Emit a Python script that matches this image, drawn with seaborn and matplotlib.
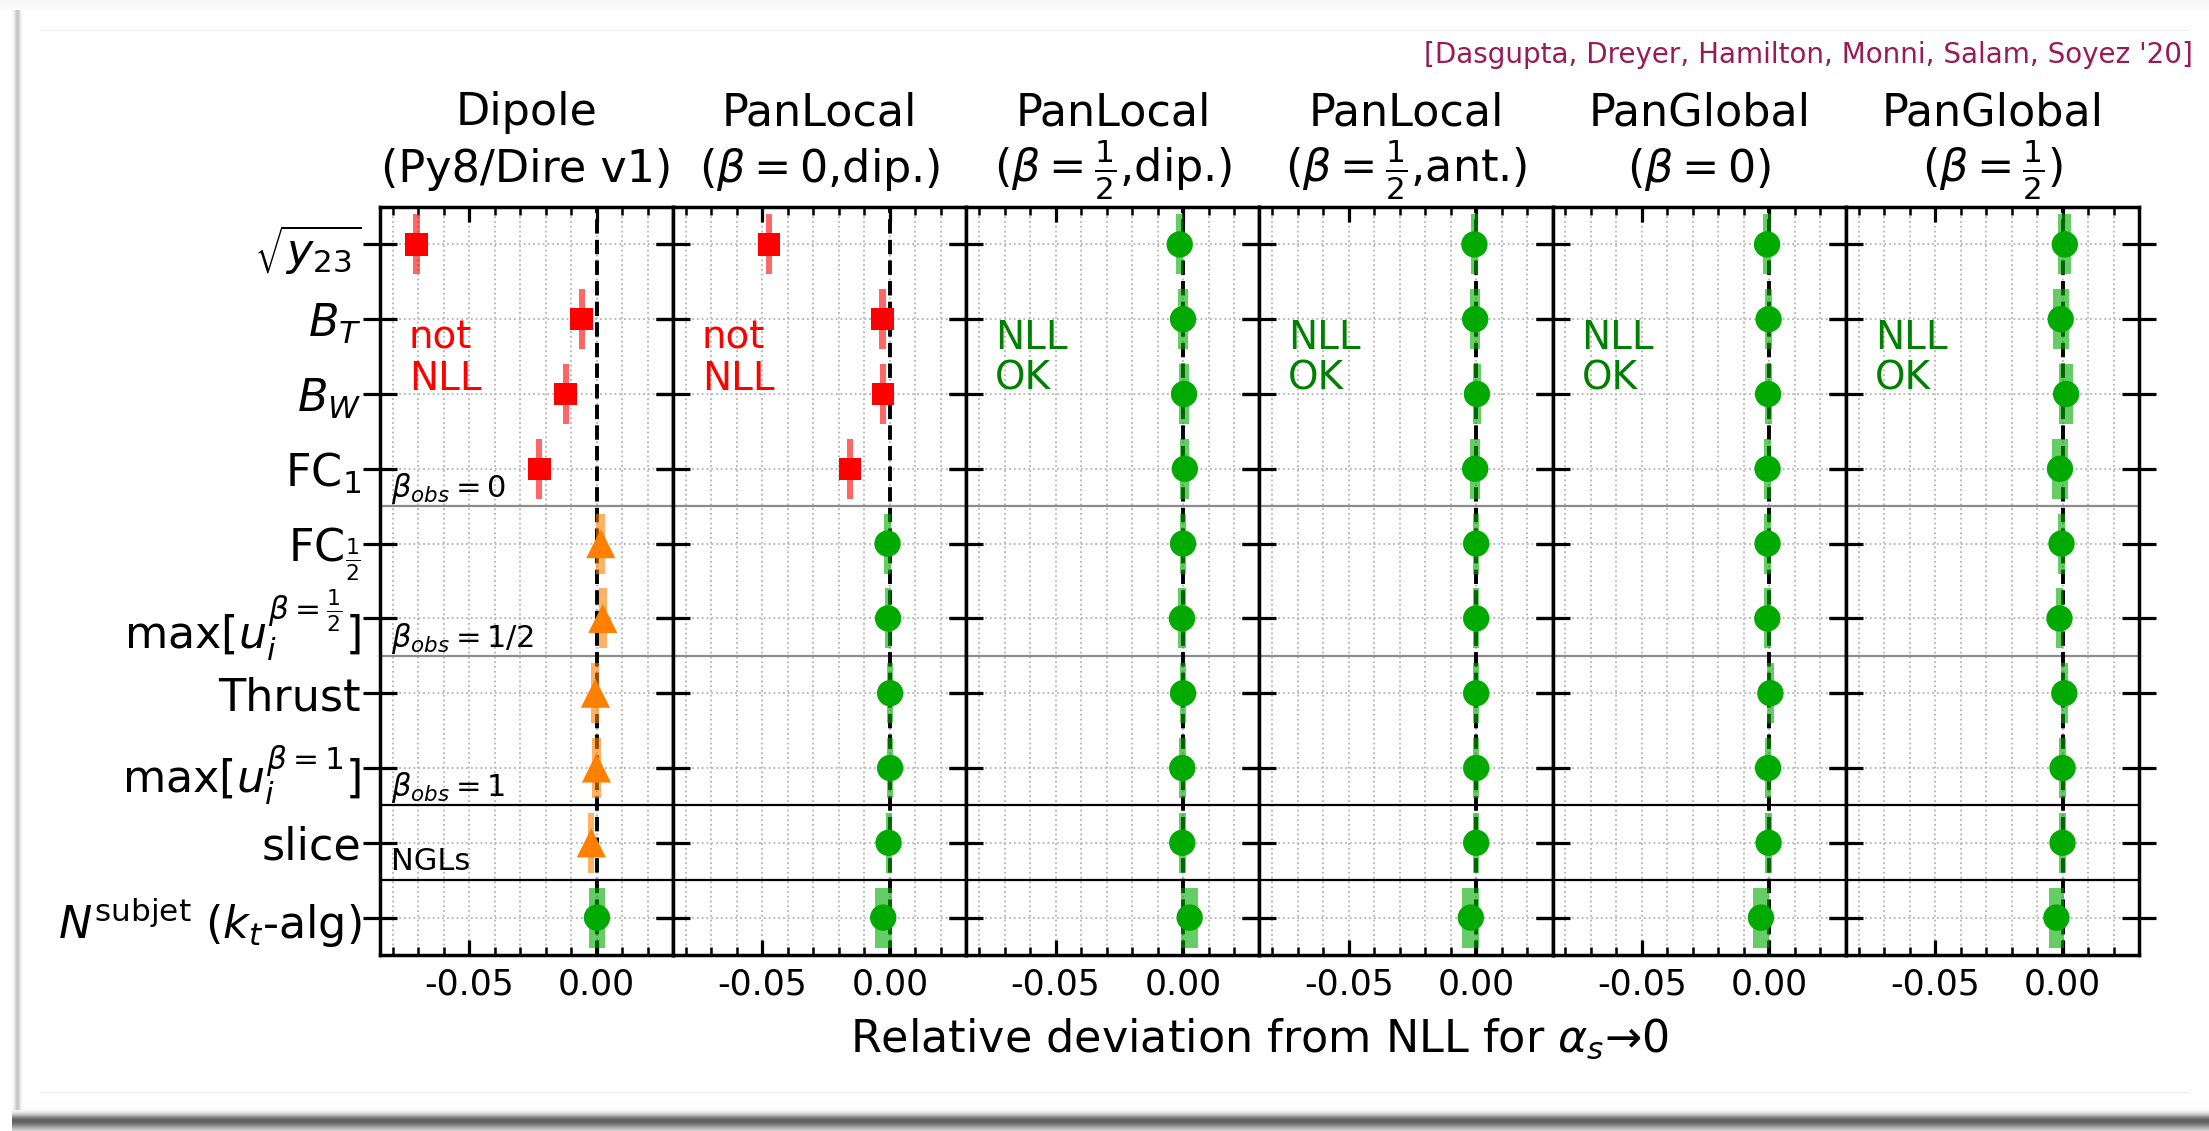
import numpy as np
import pandas as pd
import matplotlib
matplotlib.use("Agg")
import matplotlib.pyplot as plt
from matplotlib.ticker import FixedLocator, MultipleLocator
import seaborn as sns

# ---------------------------------------------------------------- data
observables = [
    r"$\sqrt{y_{23}}$", r"$B_T$", r"$B_W$", r"FC$_1$", r"FC$_{\frac{1}{2}}$",
    r"max[$u_i^{\beta=\frac{1}{2}}$]", "Thrust", r"max[$u_i^{\beta=1}$]", "slice",
    r"$N^{\rm subjet}$ ($k_t$-alg)",
]

titles_top = ["Dipole", "PanLocal", "PanLocal", "PanLocal", "PanGlobal", "PanGlobal"]
titles_bottom = ["(Py8/Dire v1)", r"($\beta=0$,dip.)", r"($\beta=\frac{1}{2}$,dip.)",
                 r"($\beta=\frac{1}{2}$,ant.)", r"($\beta=0$)", r"($\beta=\frac{1}{2}$)"]

dev_dipole = [-0.0707, -0.0059, -0.0122, -0.0225, 0.0016, 0.0024, -0.0005, -0.0001, -0.0021, 0.0001]
err_dipole = [0.0013, 0.0012, 0.0012, 0.0012, 0.0017, 0.0016, 0.0016, 0.0016, 0.0012, 0.0033]
status_dipole = ["fail"] * 4 + ["marginal"] * 5 + ["ok"]

dev_pl0_dip = [-0.0475, -0.0029, -0.0026, -0.0157, -0.0009, -0.0007, 0.0001, 0.0001, -0.0005, -0.0026]
err_pl0_dip = [0.0012, 0.0012, 0.0012, 0.0012, 0.0013, 0.0013, 0.0012, 0.0012, 0.0012, 0.0033]
status_pl0_dip = ["fail"] * 4 + ["ok"] * 6

dev_plhalf_dip = [-0.0013, 0.0000, 0.0004, 0.0007, 0.0000, -0.0004, 0.0000, -0.0003, -0.0003, 0.0026]
err_plhalf_dip = [0.0013, 0.0018, 0.0018, 0.0018, 0.0011, 0.0014, 0.0012, 0.0013, 0.0013, 0.0033]
status_plhalf_dip = ["ok"] * 10

dev_plhalf_ant = [-0.0007, -0.0004, 0.0003, -0.0004, 0.0000, 0.0000, 0.0000, 0.0000, 0.0000, -0.0021]
err_plhalf_ant = [0.0015, 0.0020, 0.0016, 0.0020, 0.0012, 0.0012, 0.0012, 0.0012, 0.0012, 0.0033]
status_plhalf_ant = ["ok"] * 10

dev_pg0 = [-0.0009, -0.0003, -0.0005, -0.0007, -0.0007, -0.0008, 0.0004, -0.0005, -0.0003, -0.0033]
err_pg0 = [0.0014, 0.0013, 0.0014, 0.0015, 0.0014, 0.0014, 0.0013, 0.0013, 0.0013, 0.0033]
status_pg0 = ["ok"] * 10

dev_pghalf = [0.0009, -0.0007, 0.0014, -0.0010, -0.0004, -0.0012, 0.0007, 0.0000, 0.0000, -0.0024]
err_pghalf = [0.0026, 0.0032, 0.0027, 0.0033, 0.0013, 0.0013, 0.0013, 0.0012, 0.0013, 0.0030]
status_pghalf = ["ok"] * 10

showers = [
    (dev_dipole, err_dipole, status_dipole),
    (dev_pl0_dip, err_pl0_dip, status_pl0_dip),
    (dev_plhalf_dip, err_plhalf_dip, status_plhalf_dip),
    (dev_plhalf_ant, err_plhalf_ant, status_plhalf_ant),
    (dev_pg0, err_pg0, status_pg0),
    (dev_pghalf, err_pghalf, status_pghalf),
]

frames = []
for k, (d, e, s) in enumerate(showers):
    frames.append(pd.DataFrame({"shower": k, "row": np.arange(len(observables)),
                                "dev": d, "err": e, "status": s}))
df = pd.concat(frames, ignore_index=True)

# ---------------------------------------------------------------- style
sns.set_theme(style="ticks")
plt.rcParams["font.family"] = ["DejaVu Sans"]
plt.rcParams["mathtext.fontset"] = "dejavusans"
plt.rcParams["axes.unicode_minus"] = False
for key in ["text.color", "axes.labelcolor", "xtick.color", "ytick.color",
            "axes.edgecolor"]:
    plt.rcParams[key] = "black"

marker_color = {"fail": "#ff0000", "marginal": "#ff7f00", "ok": "#00aa00"}
marker_shape = {"fail": "s", "marginal": "^", "ok": "o"}
marker_area = {"fail": 260, "marginal": 440, "ok": 360}

W, H = 2209, 1131
fig, axes = plt.subplots(1, 6, sharey=True, figsize=(W / 100, H / 100), dpi=100)
left_px, right_px, top_px, bottom_px = 380, 2139, 207, 955
fig.subplots_adjust(left=left_px / W, right=right_px / W, top=1 - top_px / H,
                    bottom=1 - bottom_px / H, wspace=0)

# window frame and drop shadow around the slide
bg = fig.add_axes([0, 0, 1, 1], zorder=-10)
img = np.ones((H, W, 3))
for i, c in enumerate(np.linspace(0.97, 0.99, 10)):
    img[i, :, :] = c
xs = np.arange(10, 24)
shade_l = 1 - 0.22 * np.exp(-((xs - 17) / 3.0) ** 2)
img[10:1110, 10:24, :] = shade_l[None, :, None]
ys = np.arange(1100, H)
shade_b = 1 - 0.62 * np.exp(-((ys - 1120) / 6.0) ** 2)
shade_b[ys > 1120] = 1 - 0.62 * np.exp(-((ys[ys > 1120] - 1120) / 9.0) ** 2)
img[1100:H, 12:, :] = np.minimum(img[1100:H, 12:, :], shade_b[:, None, None])
img[30, 40:2190, :] = 0.93
img[1092, 40:2190, :] = 0.93
bg.imshow(img, aspect="auto", extent=(0, 1, 0, 1), interpolation="nearest")
bg.set_axis_off()

for k, ax in enumerate(axes):
    sub = df[df["shower"] == k]
    ax.set_axisbelow(True)
    ax.xaxis.grid(True, which="both", ls=":", color="#b4b4b4", lw=1.3)
    ax.yaxis.grid(True, which="major", ls=":", color="#b4b4b4", lw=1.3)

    ax.axvline(0.0, color="black", ls="--", lw=2.8, zorder=2)
    for yy, col in [(3.5, "#8c8c8c"), (5.5, "#8c8c8c"), (7.5, "black"), (8.5, "black")]:
        ax.axhline(yy, color=col, lw=1.6, zorder=1.8)

    ax.barh(sub["row"], 2 * sub["err"], left=sub["dev"] - sub["err"], height=0.8,
            color=[marker_color[s] for s in sub["status"]], alpha=0.6, lw=0, zorder=3)
    sns.scatterplot(data=sub, x="dev", y="row", hue="status", style="status", size="status",
                    palette=marker_color, markers=marker_shape, sizes=marker_area,
                    linewidth=0, legend=False, ax=ax, zorder=5)

    ax.set_xlim(-0.085, 0.03)
    ax.set_ylim(9.5, -0.5)
    ax.set_xlabel("")
    ax.set_ylabel("")
    ax.xaxis.set_major_locator(FixedLocator([-0.05, 0.0]))
    ax.xaxis.set_minor_locator(MultipleLocator(0.01))
    ax.set_xticklabels(["-0.05", "0.00"])
    ax.tick_params(axis="x", which="major", direction="in", length=11, width=2.3,
                   top=True, bottom=True, labelsize=25, pad=9, colors="black")
    ax.tick_params(axis="x", which="minor", direction="in", length=5.5, width=1.8,
                   top=True, bottom=True, colors="black")
    ax.tick_params(axis="y", which="major", direction="inout", length=25, width=2.3,
                   left=True, right=True, labelleft=(k == 0), pad=1, labelsize=32,
                   colors="black")
    ax.tick_params(axis="y", which="minor", left=False, right=False)
    for sp in ax.spines.values():
        sp.set_linewidth(2.5)
        sp.set_color("black")

    cx = (left_px + (k + 0.5) * (right_px - left_px) / 6) / W
    fig.text(cx, 1 - 125 / H, titles_top[k], ha="center", va="baseline", fontsize=32,
             color="black")
    fig.text(cx, 1 - 182 / H, titles_bottom[k], ha="center", va="baseline", fontsize=32,
             color="black")

    if k < 2:
        ax.text(-0.0737, 1.52, "not\nNLL", color="#ff0000", fontsize=28,
                ha="left", va="center", linespacing=1.1, zorder=4)
    else:
        ax.text(-0.0737, 1.52, "NLL\nOK", color="#008000", fontsize=28,
                ha="left", va="center", linespacing=1.1, zorder=4)

axes[0].set_yticks(range(len(observables)))
axes[0].set_yticklabels(observables)

for yy, txt in [(3.38, r"$\beta_{obs}=0$"), (5.38, r"$\beta_{obs}=1/2$"),
                (7.38, r"$\beta_{obs}=1$"), (8.37, "NGLs")]:
    axes[0].text(-0.0805, yy, txt, fontsize=22, ha="left", va="baseline", zorder=4,
                 color="black")

fig.text((left_px + right_px) / 2 / W, 1 - 1052 / H,
         r"Relative deviation from NLL for $\alpha_s$→0", ha="center", va="baseline",
         fontsize=32, color="black")
fig.text(2193 / W, 1 - 55 / H, "[Dasgupta, Dreyer, Hamilton, Monni, Salam, Soyez '20]",
         ha="right", va="center", fontsize=20, color="#991a55")

fig.savefig("out.png", dpi=100)
